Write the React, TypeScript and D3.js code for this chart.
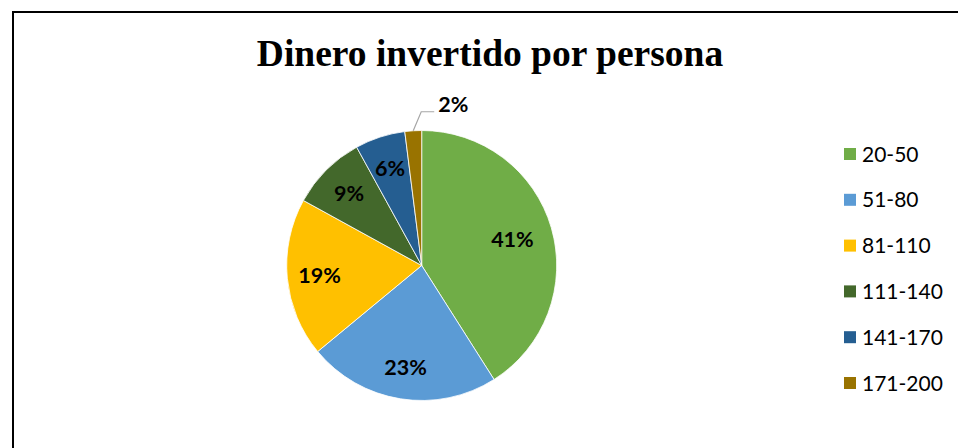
import React from "react";
import * as d3 from "d3";

const categories = ["20-50", "51-80", "81-110", "111-140", "141-170", "171-200"];
const values = [41, 23, 19, 9, 6, 2];
const labels = ["41%", "23%", "19%", "9%", "6%", "2%"];
const colors = ["#70AD47", "#5B9BD5", "#FFC000", "#43682B", "#255E91", "#997300"];
const title = "Dinero invertido por persona";

const W = 958;
const H = 448;

export default function App() {
  const cx = 421.7;
  const cy = 265.5;
  const R = 135;
  const pie = d3.pie<number>().sort(null).value((d) => d)(values);
  const arc = d3.arc<d3.PieArcDatum<number>>().innerRadius(0).outerRadius(R);
  const labelArc = d3.arc<d3.PieArcDatum<number>>().innerRadius(R * 0.76).outerRadius(R * 0.76);
  const bigLabelArc = d3.arc<d3.PieArcDatum<number>>().innerRadius(R * 0.7).outerRadius(R * 0.7);

  const legendY = d3.scalePoint<string>().domain(categories).range([153, 382]);

  return (
    <svg
      width={W}
      height={H}
      style={{ position: "absolute", left: 0, top: 0, background: "#fff" }}
    >
      <rect x={0} y={0} width={W} height={H} fill="#fff" />
      <rect x={13} y={12} width={W + 40} height={H + 40} fill="none" stroke="#000" strokeWidth={2} />
      <text
        x={490}
        y={66}
        textAnchor="middle"
        fontFamily="'Liberation Serif', 'Times New Roman', serif"
        fontWeight="bold"
        fontSize={37.5}
        fill="#000"
      >
        {title}
      </text>
      <g transform={`translate(${cx},${cy})`}>
        {pie.map((p, i) => (
          <path key={categories[i]} d={arc(p) || ""} fill={colors[i]} stroke="#fff" strokeWidth={0.8} />
        ))}
        {pie.map((p, i) => {
          const small = values[i] < 4;
          if (!small) {
            const [lx, ly] = (values[i] > 30 ? bigLabelArc : labelArc).centroid(p);
            return (
              <text
                key={"l" + i}
                x={lx}
                y={ly}
                textAnchor="middle"
                dominantBaseline="central"
                fontFamily="Lato, 'Open Sans', sans-serif"
                fontWeight="bold"
                fontSize={21.5}
                fill="#000"
              >
                {labels[i]}
              </text>
            );
          }
          const mid = (p.startAngle + p.endAngle) / 2;
          const sx = R * Math.sin(mid);
          const sy = -R * Math.cos(mid);
          const ex = sx + 8;
          const ey = sy - 19;
          const hx = ex + 13;
          return (
            <g key={"l" + i}>
              <polyline
                points={`${sx},${sy} ${ex},${ey} ${hx},${ey}`}
                fill="none"
                stroke="#A6A6A6"
                strokeWidth={1.2}
              />
              <text
                x={hx + 4}
                y={ey}
                textAnchor="start"
                fontFamily="Lato, 'Open Sans', sans-serif"
                fontWeight="bold"
                fontSize={21.5}
                fill="#000"
              >
                {labels[i]}
              </text>
            </g>
          );
        })}
      </g>
      <g>
        {categories.map((c, i) => {
          const y = legendY(c) as number;
          return (
            <g key={c}>
              <rect x={844} y={y - 5} width={12} height={12} fill={colors[i]} />
              <text
                x={862}
                y={y}
                dominantBaseline="central"
                fontFamily="Lato, 'Open Sans', sans-serif"
                fontSize={21}
                fill="#000"
              >
                {c}
              </text>
            </g>
          );
        })}
      </g>
    </svg>
  );
}
